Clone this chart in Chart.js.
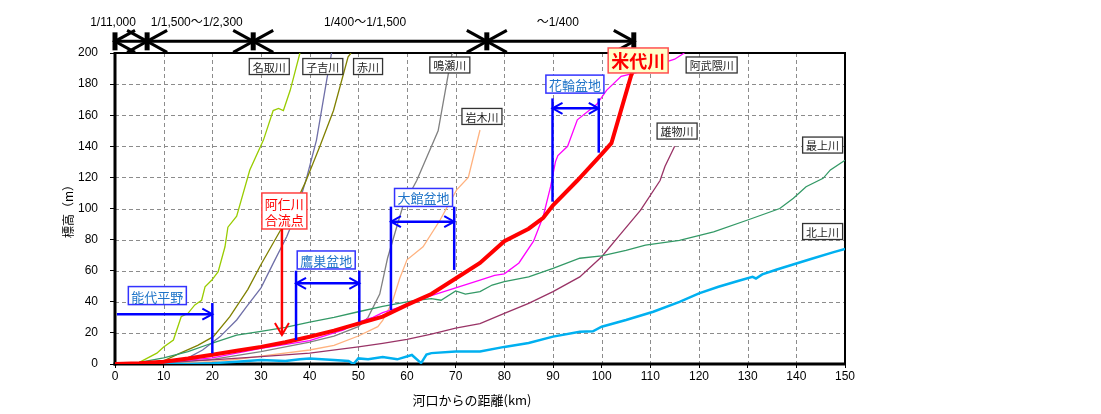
<!DOCTYPE html>
<html>
<head>
<meta charset="utf-8">
<script src="https://cdn.jsdelivr.net/npm/chart.js@4.4.1/dist/chart.umd.min.js"></script>
<style>
  html, body { margin: 0; padding: 0; background: #fff; }
  #wrap { width: 1101px; height: 414px; }
</style>
</head>
<body>
<div id="wrap"><canvas id="profile" width="1101" height="414"></canvas></div>
<script>
// Longitudinal river-bed profiles: distance from the mouth (km) vs elevation (m)

const yoneshiroKm = [0, 5, 10, 15, 20, 25, 30, 35, 40, 45, 50, 55, 60, 65, 70, 75, 80, 85, 88, 90, 95, 100, 102, 106, 108];
const yoneshiroM  = [0, 0.5, 1.5, 3.5, 6, 8.5, 11, 14, 17.5, 21.5, 26, 30.5, 38, 45, 55, 65, 79, 87, 94, 102, 118, 135, 142, 185, 200];

const kitakamiKm = [10, 15, 20, 25, 30, 35, 38, 40, 45, 48, 49, 50, 52, 55, 58, 61, 62.9, 64, 65, 70, 75, 80, 85, 90, 95.5, 98.2, 100, 105, 110.6, 116, 120, 124, 128, 131, 131.7, 133, 136, 139, 143, 147.5, 150];
const kitakamiM  = [0, 0, 0.5, 1.5, 2.6, 2, 3, 3.6, 2.5, 2, 0, 3.6, 3, 4.5, 3, 5.8, 0.6, 6, 7, 8, 8, 11, 13.5, 17.6, 20.8, 21, 24, 28.3, 33.6, 40, 45.4, 49.7, 53.4, 56, 55, 57.6, 60.8, 63.7, 67.5, 71.8, 74];

const abukumaKm = [5, 10, 20, 30, 40, 45, 47, 50, 53, 55, 60, 65, 70, 75, 78, 80, 83, 86, 88, 89.5, 90.5, 91, 93, 95, 99, 101, 104, 108, 112, 115, 117];
const abukumaM  = [0, 1, 4, 10, 15, 20, 22, 27, 30, 33, 38, 44, 49, 54, 57, 58, 65, 79, 95, 114, 130, 134, 140, 157, 167, 176, 185, 188, 193, 196, 200];

const mogamiKm = [2, 5, 10, 15, 20, 25, 30, 35, 40, 45, 50, 55, 60, 62, 65, 67, 70, 72, 75, 77.5, 80, 85, 90, 95.5, 100, 105, 109, 116, 123, 130, 136.6, 139.4, 142, 145.5, 147, 150];
const mogamiM  = [0, 1, 4, 8, 13.5, 18.6, 21, 23.5, 27, 30, 33.6, 37, 40, 41, 42, 41, 47, 45, 46.5, 50.8, 53, 56, 61.5, 68, 69.5, 73, 76.5, 79.5, 85, 92.6, 100, 106.6, 114, 119.4, 124.8, 131];

const omonoKm = [0, 10, 20, 30, 40, 50, 55, 60, 65, 70, 75, 80, 85, 90, 95.5, 100, 104, 108, 112, 113, 115];
const omonoM  = [0, 1, 2.6, 4.7, 7, 11, 13.3, 15.8, 19.2, 23, 26, 32.6, 39, 46.5, 56, 69, 84, 99, 118, 127, 140];

const naruseKm = [5, 10, 20, 30, 40, 45, 50, 52, 54.4, 56, 58.2, 59.1, 62, 66.4, 69.2, 69.5];
const naruseM  = [0, 0.5, 3, 8, 14, 18, 24, 30, 45, 68, 91.5, 101, 118, 150, 199, 200];

const iwakiKm = [10, 20, 25, 30, 40, 45, 50, 54, 55, 57, 58.5, 60, 63.3, 66.8, 70.2, 72.6, 75];
const iwakiM  = [0, 1.5, 3, 5, 9, 12, 18, 24, 28, 40, 55, 67, 75.4, 92.6, 112, 120, 150.5];

const natoriKm = [0, 5, 8.6, 10, 12, 13.6, 15, 16.4, 17.8, 18.5, 19.9, 21.2, 22.6, 23.2, 25, 27.7, 30.5, 32.5, 33.6, 34.6, 36, 38];
const natoriM  = [0, 1, 7, 11, 15.4, 30.4, 32.6, 38, 41, 49.7, 54, 59.4, 75.4, 88, 95, 124.7, 144, 163, 164.4, 163, 176, 200];

const akaKm = [0, 5, 10, 13.4, 17, 20.2, 23.6, 27.3, 30, 34, 36.6, 39, 42.1, 44.9, 47.9, 48.5];
const akaM  = [0, 0.5, 2, 7, 12, 17.6, 30.4, 48, 64, 86, 100, 116, 140, 163, 197.6, 200];

const koyoshiKm = [5, 10, 15, 18, 21.6, 25, 27, 30, 32.5, 35.3, 37, 39.4, 41.4, 43.5, 44.5];
const koyoshiM  = [0, 1, 4, 9, 17.6, 28.3, 36.8, 49, 64.7, 82, 95, 120, 144, 182.6, 200];

// Axis ticks
const kmTicks = [0, 10, 20, 30, 40, 50, 60, 70, 80, 90, 100, 110, 120, 130, 140, 150];
const mTicks  = [0, 20, 40, 60, 80, 100, 120, 140, 160, 180, 200];

// Bed-slope sections along the Yoneshiro (km from the mouth)
const slopeBoundsKm = [0, 6.6, 28.4, 76.4, 106.6];
const slopeLabels   = ['1/11,000', '1/1,500～1/2,300', '1/400～1/1,500', '～1/400'];
const slopeLabelKm  = [-0.4, 16.8, 51.4, 91];

// River name tags
const riverTagText = ['名取川', '子吉川', '赤川', '鳴瀬川', '岩木川', '阿武隈川', '雄物川', '最上川', '北上川'];
const riverTagKm   = [31.7, 42.7, 52.0, 68.8, 75.4, 122.6, 115.5, 145.4, 145.4];
const riverTagM    = [191.3, 191.3, 191.3, 192.3, 159.2, 192.3, 149.8, 140.8, 85.2];

// Plains and basins along the Yoneshiro
const basinText   = ['能代平野', '鷹巣盆地', '大館盆地', '花輪盆地'];
const basinFromKm = [0.4, 37.2, 56.7, 89.9];
const basinToKm   = [20, 50.2, 69.7, 99.4];

const toPts = (xs, ys) => xs.map((x, i) => ({ x, y: ys[i] }));

const series = [
  { label: '米代川',   pts: toPts(yoneshiroKm, yoneshiroM), color: '#FF0000', width: 4 },
  { label: '北上川',   pts: toPts(kitakamiKm, kitakamiM),   color: '#00B0F0', width: 2.5 },
  { label: '阿武隈川', pts: toPts(abukumaKm, abukumaM),     color: '#FF00FF', width: 1.3 },
  { label: '最上川',   pts: toPts(mogamiKm, mogamiM),       color: '#339966', width: 1.3 },
  { label: '雄物川',   pts: toPts(omonoKm, omonoM),         color: '#993366', width: 1.3 },
  { label: '鳴瀬川',   pts: toPts(naruseKm, naruseM),       color: '#808080', width: 1.3 },
  { label: '岩木川',   pts: toPts(iwakiKm, iwakiM),         color: '#FFB27F', width: 1.3 },
  { label: '名取川',   pts: toPts(natoriKm, natoriM),       color: '#99CC00', width: 1.3 },
  { label: '赤川',     pts: toPts(akaKm, akaM),             color: '#808000', width: 1.3 },
  { label: '子吉川',   pts: toPts(koyoshiKm, koyoshiM),     color: '#6F6FA8', width: 1.3 }
];

const CJK = '"Noto Sans CJK JP", "Noto Sans", sans-serif';
const LAT = '"Liberation Sans", Arial, "Noto Sans CJK JP", sans-serif';

function chevron(ctx, x, y, dx, dy, len, half) {
  const nx = -dy, ny = dx;
  ctx.beginPath();
  ctx.moveTo(x - dx * len + nx * half, y - dy * len + ny * half);
  ctx.lineTo(x, y);
  ctx.lineTo(x - dx * len - nx * half, y - dy * len - ny * half);
  ctx.stroke();
}

function line(ctx, x1, y1, x2, y2) {
  ctx.beginPath();
  ctx.moveTo(x1, y1);
  ctx.lineTo(x2, y2);
  ctx.stroke();
}

function tag(ctx, lines, cx, cy, o) {
  ctx.save();
  ctx.font = o.font;
  const w = Math.max(...lines.map(t => ctx.measureText(t).width)) + 2 * o.padX;
  const h = lines.length * o.lineH + 2 * o.padY;
  const x = cx - w / 2, y = cy - h / 2;
  ctx.fillStyle = o.fill;
  ctx.fillRect(x, y, w, h);
  ctx.lineWidth = o.bw;
  ctx.strokeStyle = o.border;
  ctx.strokeRect(x, y, w, h);
  ctx.fillStyle = o.color;
  ctx.textAlign = 'center';
  ctx.textBaseline = 'middle';
  lines.forEach((t, i) => ctx.fillText(t, cx, y + o.padY + o.lineH * (i + 0.5) + 1));
  ctx.restore();
  return { x, y, w, h };
}

const annotations = {
  id: 'annotations',
  beforeDatasetsDraw(chart) {
    const { ctx, chartArea: a } = chart;
    const sx = chart.scales.x, sy = chart.scales.y;
    // dashed grid
    ctx.save();
    ctx.strokeStyle = '#8c8c8c';
    ctx.lineWidth = 1;
    ctx.setLineDash([4, 3]);
    kmTicks.forEach(v => {
      const x = Math.round(sx.getPixelForValue(v)) + 0.5;
      line(ctx, x, a.top, x, a.bottom);
    });
    mTicks.forEach(v => {
      const y = Math.round(sy.getPixelForValue(v)) + 0.5;
      line(ctx, a.left, y, a.right, y);
    });
    ctx.restore();
    // plot frame
    ctx.save();
    ctx.strokeStyle = '#000';
    ctx.lineWidth = 2;
    line(ctx, a.left, a.top, a.right + 1, a.top);
    line(ctx, a.right, a.top, a.right, a.bottom);
    ctx.lineWidth = 3;
    line(ctx, a.left - 1.5, a.bottom, a.right + 1, a.bottom);
    line(ctx, a.left, a.top - 1, a.left, a.bottom + 1.5);
    ctx.restore();
    // horizontal axis title
    ctx.save();
    ctx.fillStyle = '#000';
    ctx.font = '13px ' + CJK;
    ctx.textAlign = 'center';
    ctx.textBaseline = 'middle';
    ctx.fillText('河口からの距離(km)', (a.left + a.right) / 2 - 8, a.bottom + 36);
    ctx.restore();
  },
  afterDatasetsDraw(chart) {
    const { ctx } = chart;
    const X = v => chart.scales.x.getPixelForValue(v);
    const Y = v => chart.scales.y.getPixelForValue(v);

    // slope sections above the plot
    ctx.save();
    ctx.strokeStyle = '#000';
    ctx.lineCap = 'butt';
    const ay = Y(207.5);
    for (let i = 0; i < slopeBoundsKm.length - 1; i++) {
      const x1 = X(slopeBoundsKm[i]), x2 = X(slopeBoundsKm[i + 1]);
      ctx.lineWidth = 3;
      line(ctx, x1, ay, x2, ay);
      chevron(ctx, x1, ay, -1, 0, 20, 11);
      chevron(ctx, x2, ay, 1, 0, 20, 11);
    }
    ctx.lineWidth = 5;
    slopeBoundsKm.forEach(k => line(ctx, X(k), ay - 9, X(k), ay + 9));
    ctx.fillStyle = '#000';
    ctx.font = '12px ' + LAT;
    ctx.textAlign = 'center';
    ctx.textBaseline = 'middle';
    slopeLabels.forEach((t, i) => ctx.fillText(t, X(slopeLabelKm[i]), Y(219.3)));
    ctx.restore();

    // plains / basins
    const basinTagKm = [8.7, 43.4, 63.4, 94.5];
    const basinTagM  = [44, 66.9, 107.1, 180];
    const basinArrowM = [32, 51.9, 91.5, 164.4];
    const wallTopM = [[39.2], [60, 60], [101.2, 101.2], [170.8, 170.8]];
    const wallBotM = [[6.9], [15.4, 27.2], [34.7, 60.5], [104.4, 135.9]];
    ctx.save();
    ctx.strokeStyle = '#0000FF';
    ctx.lineWidth = 2.5;
    basinText.forEach((t, i) => {
      const y = Y(basinArrowM[i]);
      const x1 = X(basinFromKm[i]), x2 = X(basinToKm[i]);
      const walls = i === 0 ? [basinToKm[i]] : [basinFromKm[i], basinToKm[i]];
      walls.forEach((k, j) => line(ctx, X(k), Y(wallTopM[i][j]), X(k), Y(wallBotM[i][j])));
      line(ctx, x1, y, x2, y);
      ctx.lineWidth = 2;
      chevron(ctx, x2, y, 1, 0, 10, 5.5);
      if (i > 0) chevron(ctx, x1, y, -1, 0, 10, 5.5);
      ctx.lineWidth = 2.5;
      tag(ctx, [t], X(basinTagKm[i]), Y(basinTagM[i]), {
        font: '13px ' + CJK, padX: 3, padY: 1, lineH: 16,
        fill: '#FFFFFF', border: '#3333FF', bw: 1.5, color: '#1F74C8'
      });
    });
    ctx.restore();

    // confluence of the Ani river
    ctx.save();
    const box = tag(ctx, ['阿仁川', '合流点'], X(34.8), Y(98.4), {
      font: '13px ' + CJK, padX: 3, padY: 2, lineH: 16,
      fill: '#FFFFFF', border: '#FF4040', bw: 1.5, color: '#FF0000'
    });
    ctx.strokeStyle = '#FF0000';
    ctx.lineWidth = 2.5;
    const ax = X(34.3);
    line(ctx, ax, box.y + box.h, ax, Y(18.6));
    ctx.lineWidth = 2;
    chevron(ctx, ax, Y(18.6), 0, 1, 12, 7);
    ctx.restore();

    // river name tags
    riverTagText.forEach((t, i) => tag(ctx, [t], X(riverTagKm[i]), Y(riverTagM[i]), {
      font: '11px ' + CJK, padX: 3.5, padY: 1, lineH: 14,
      fill: '#FFFFFF', border: '#333333', bw: 1.3, color: '#222222'
    }));

    // main river label
    tag(ctx, ['米代川'], X(107.5), Y(195.2), {
      font: 'bold 18px ' + CJK, padX: 3, padY: 1, lineH: 23,
      fill: '#FFFFC8', border: '#FF5050', bw: 1.5, color: '#FF0000'
    });
  }
};

new Chart(document.getElementById('profile'), {
  type: 'line',
  data: {
    datasets: series.map(s => ({
      label: s.label,
      data: s.pts,
      borderColor: s.color,
      backgroundColor: s.color,
      borderWidth: s.width,
      pointRadius: 0,
      tension: 0,
      fill: false
    }))
  },
  options: {
    responsive: false,
    animation: false,
    devicePixelRatio: 1,
    layout: { padding: { top: 53, right: 256, bottom: 5, left: 55 } },
    plugins: { legend: { display: false }, tooltip: { enabled: false } },
    scales: {
      x: {
        type: 'linear',
        min: 0, max: 150,
        afterFit: s => { s.height = 45; },
        afterBuildTicks: s => { s.ticks = kmTicks.map(v => ({ value: v })); },
        ticks: { color: '#000', font: { family: LAT, size: 12 }, padding: 1, maxRotation: 0 },
        grid: { drawOnChartArea: false, tickLength: 4, tickColor: '#000', tickWidth: 1 },
        border: { display: false },
        title: { display: false }
      },
      y: {
        type: 'linear',
        min: 0, max: 200,
        afterFit: s => { s.width = 60; },
        afterBuildTicks: s => { s.ticks = mTicks.map(v => ({ value: v })); },
        ticks: { color: '#000', font: { family: LAT, size: 12 }, padding: 12 },
        grid: { drawOnChartArea: false, tickLength: 5, tickColor: '#000', tickWidth: 1 },
        border: { display: false },
        title: { display: true, text: '標高（m）', color: '#000', font: { family: CJK, size: 12 }, padding: { top: 6, bottom: 0 } }
      }
    }
  },
  plugins: [annotations]
});
</script>
</body>
</html>
